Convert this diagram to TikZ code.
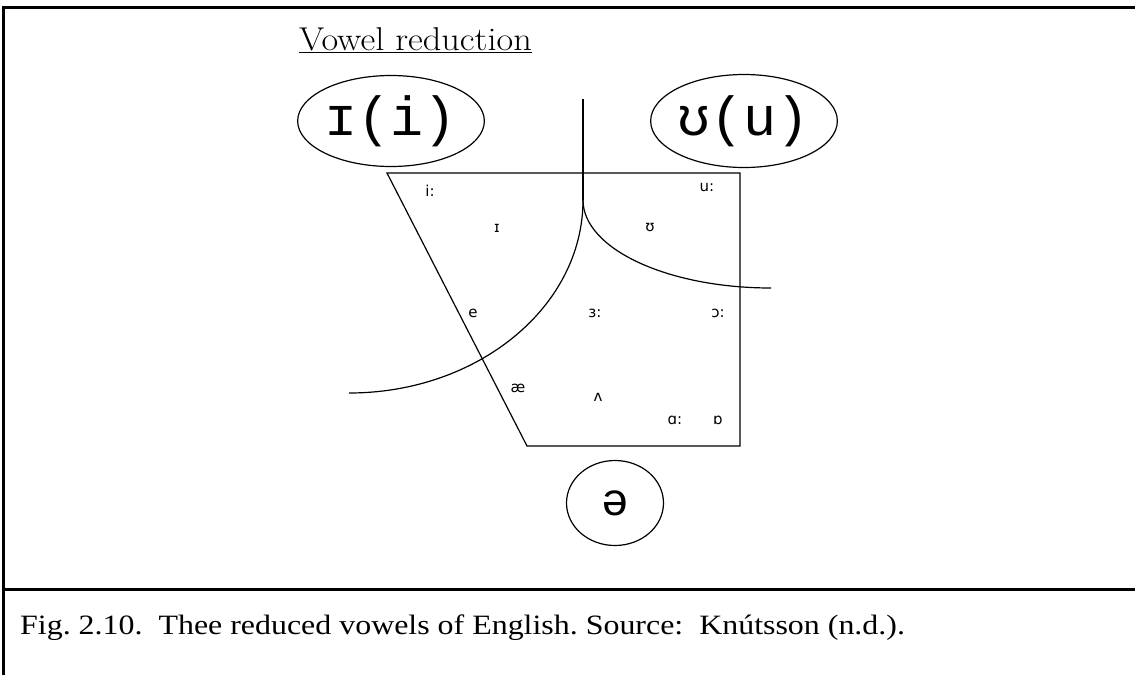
\documentclass[tikz,border=0pt]{standalone}
\usepackage{fontspec}
\usepackage{tikz}
\usetikzlibrary{shapes.geometric}
\newfontfamily\ipamono{Liberation Mono}
\newfontfamily\ipasans{DejaVu Sans}
\newfontfamily\capserif[FakeStretch=1.14]{Liberation Serif}
\newfontfamily\headserif[FakeStretch=1.1]{Latin Modern Roman}
\frenchspacing

\begin{document}
\begin{tikzpicture}[x=1pt,y=-1pt,
  frame/.style={line width=3pt},
  chart/.style={line width=1.2pt},
  big/.style={draw,ellipse,line width=1.2pt,inner sep=0pt,
              font=\ipamono\fontsize{55}{60}\selectfont},
  vow/.style={inner sep=0pt,font=\ipasans\fontsize{15}{17}\selectfont}]
\useasboundingbox (0,0) rectangle (1135,675);
% frame and caption rule
\draw[frame] (1135,7) -- (3,7) -- (3,675);
\draw[frame] (3,589) -- (1135,589);
% title
\node[anchor=base west,inner sep=0pt,font=\headserif\fontsize{33}{40}\selectfont] (title) at (299,50) {\underline{Vowel reduction}};
% vowel quadrilateral
\coordinate (tl) at (387,173);
\coordinate (tr) at (740,173);
\coordinate (br) at (740,446);
\coordinate (bl) at (527,446);
\draw[chart] (tl) -- (tr) -- (br) -- (bl) -- cycle;
% reduction areas
\coordinate (top) at (583,99);
\coordinate (cusp) at (583,200);
\draw[chart] (top) -- (cusp);
\draw[chart] (cusp) arc[start angle=0,end angle=-90,x radius=234pt,y radius=193pt];
\draw[chart] (cusp) arc[start angle=180,end angle=270,x radius=188pt,y radius=88pt];
% vowels
\node[vow] (iy) at (430,191) {i:};
\node[vow] (uw) at (707,187) {u:};
\node[vow] (ih) at (497,228) {ɪ};
\node[vow] (uh) at (650,228) {ʊ};
\node[vow] (eh) at (473,313) {e};
\node[vow] (er) at (595,313) {ɜ:};
\node[vow] (ao) at (718,313) {ɔ:};
\node[vow] (ae) at (518,388) {æ};
\node[vow] (ah) at (598,397) {ʌ};
\node[vow] (aa) at (675,420) {ɑ:};
\node[vow] (oh) at (718,420) {ɒ};
% reduced vowels
\node[big,minimum width=185pt,minimum height=91pt] (ihat) at (391,121) {ɪ(i)};
\node[big,minimum width=185pt,minimum height=93pt] (uhat) at (744,121) {ʊ(u)};
\node[draw,ellipse,line width=1.2pt,inner sep=0pt,minimum width=97pt,minimum height=85pt,
      font=\ipamono\fontsize{46}{50}\selectfont] (schwa) at (615,503) {ə};
% caption
\node[anchor=base west,inner sep=0pt,font=\capserif\fontsize{28}{34}\selectfont] (cap) at (20,634)
  {Fig. 2.10.\ \ Thee reduced vowels of English. Source:\ \ Knútsson (n.d.).};
\end{tikzpicture}
\end{document}
